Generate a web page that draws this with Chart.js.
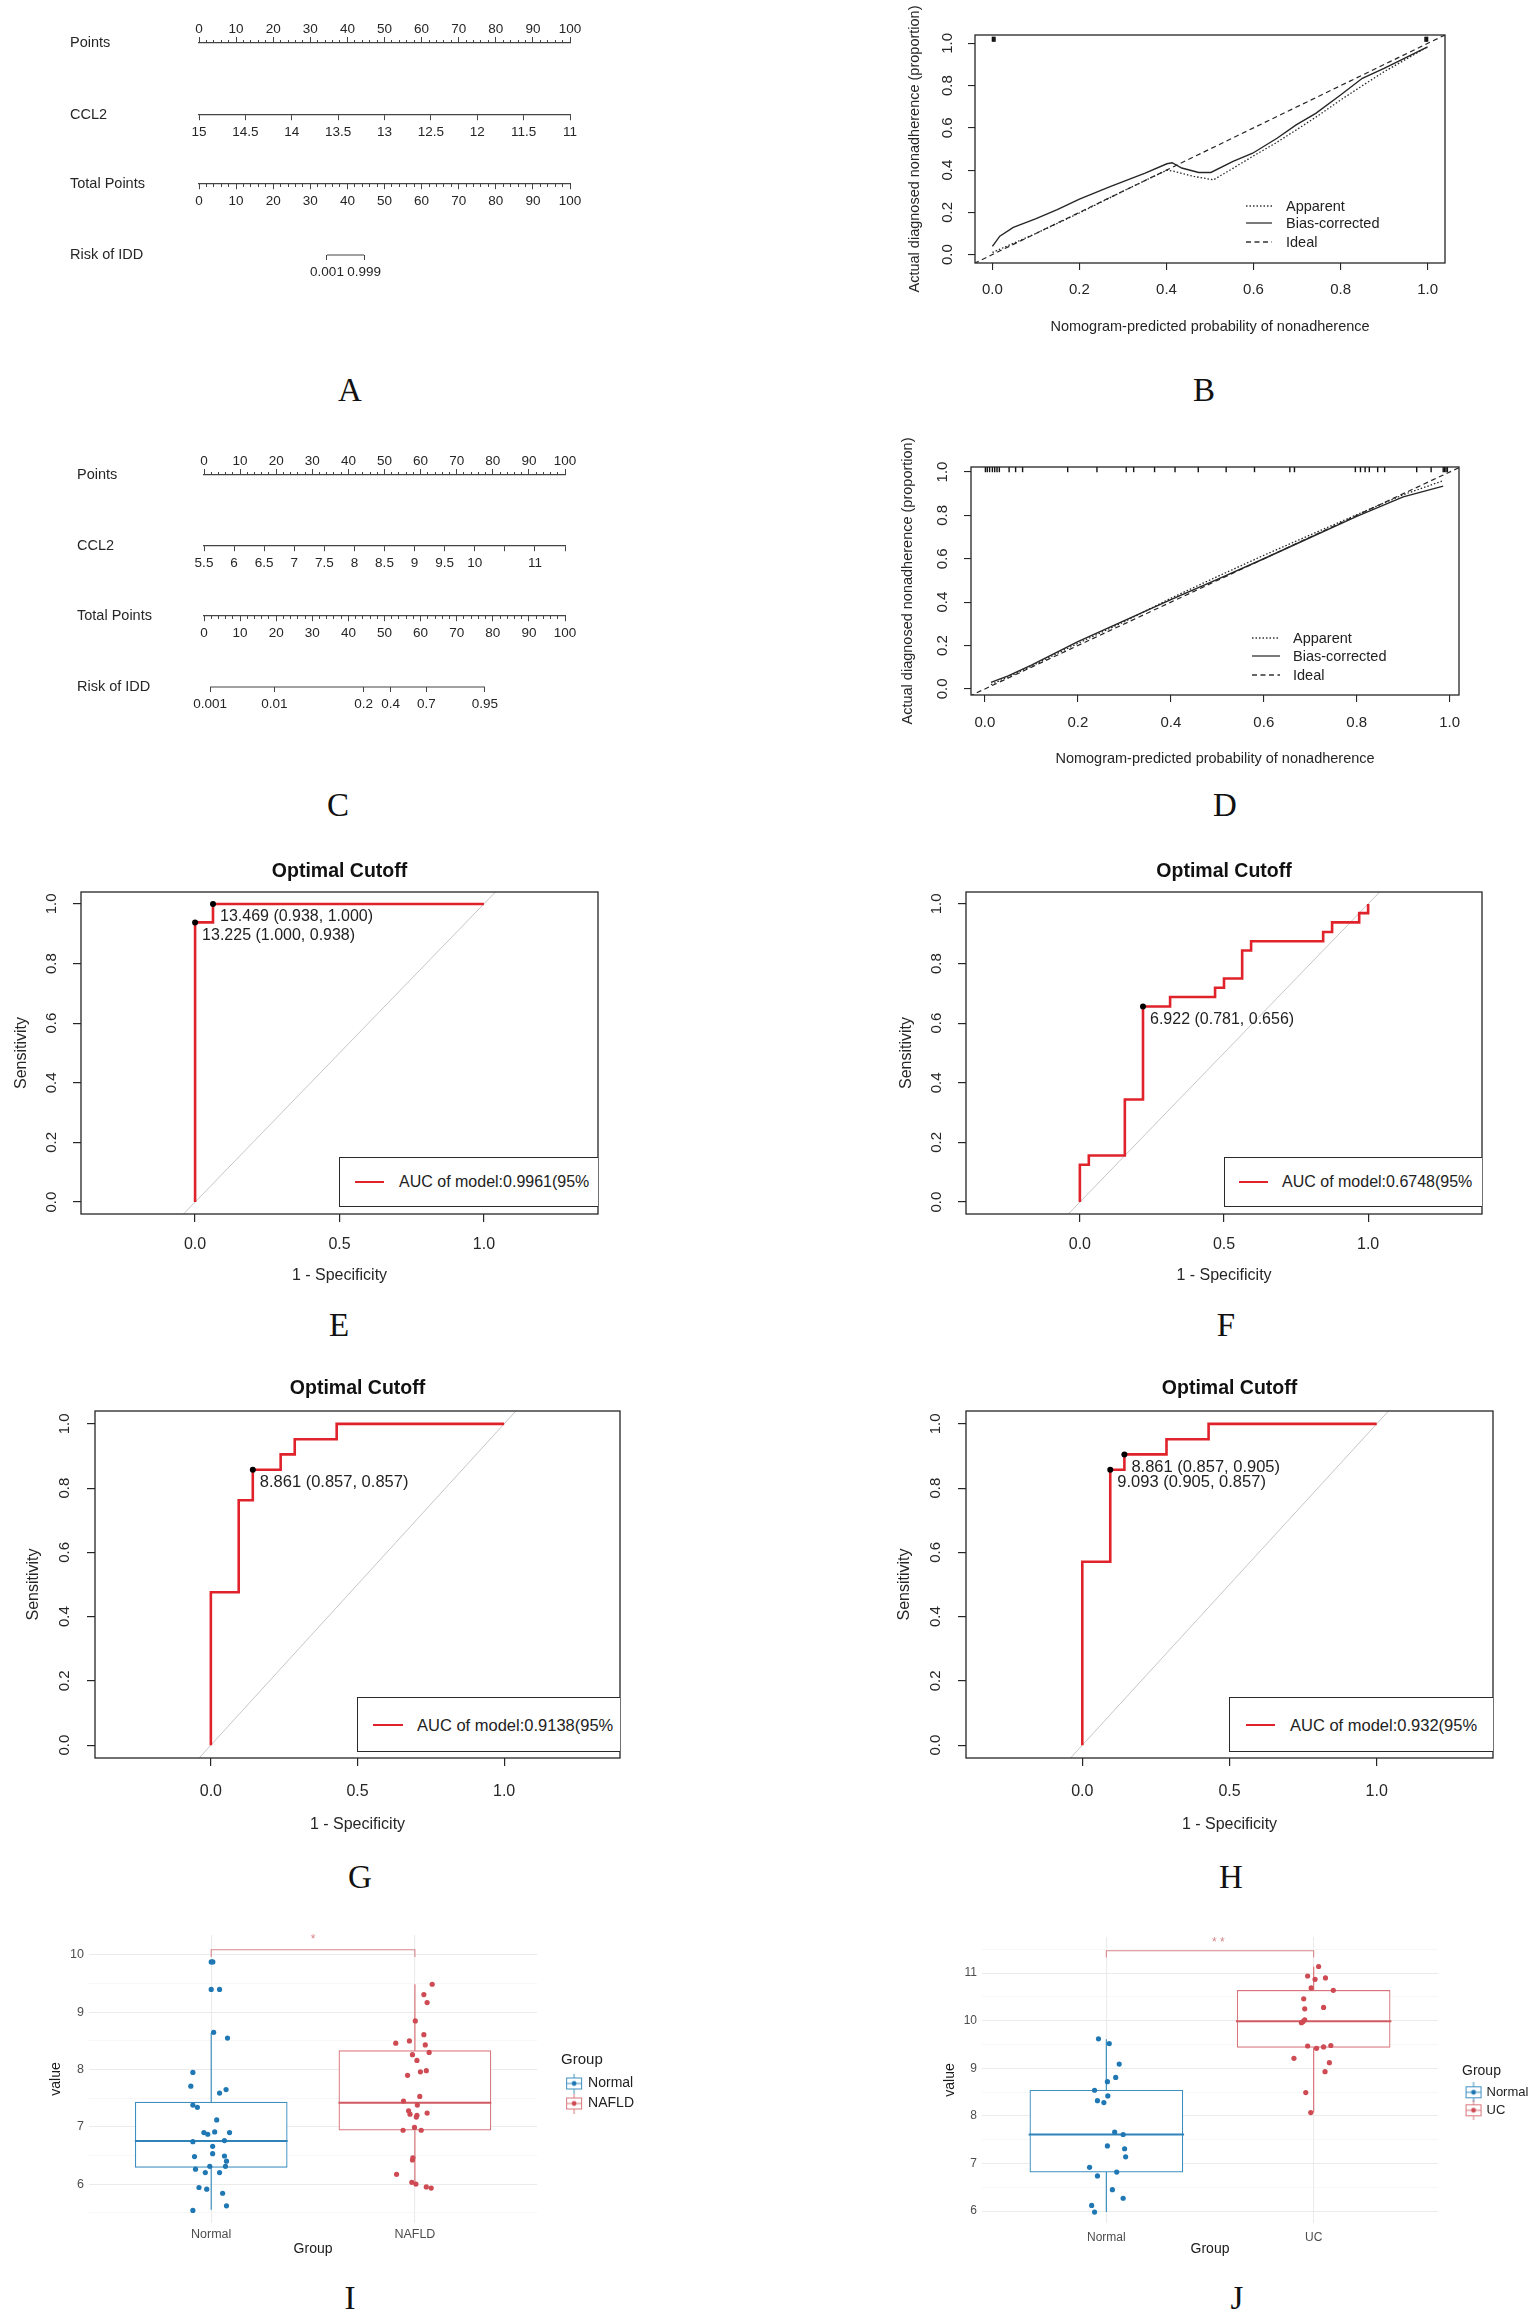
<!DOCTYPE html>
<html>
<head>
<meta charset="utf-8">
<title>CCL2 nomograms, calibration, ROC and box plots</title>
<script src="https://cdn.jsdelivr.net/npm/chart.js@4.4.1/dist/chart.umd.min.js"></script>
<style>
  html, body { margin: 0; padding: 0; background: #fff; }
  #page { position: relative; width: 1535px; height: 2314px; overflow: hidden; background: #fff;
          font-family: 'Liberation Sans', Arial, sans-serif; color: #222; }
  #page canvas { position: absolute; }
  .tag { position: absolute; font-family: 'Liberation Serif', 'Times New Roman', serif; font-size: 33px;
         line-height: 1; transform: translate(-50%, -50%); color: #111; }
  .auc { position: absolute; box-sizing: border-box; border: 1.4px solid #2a2a2a; border-right: none;
         overflow: hidden; background: #fff; }
  .auc i { position: absolute; height: 0; border-top: 2.6px solid #e0222b; transform: translateY(-50%); }
  .auc span { position: absolute; white-space: nowrap; line-height: 1; transform: translateY(-50%); color: #222; }
  .calkey { position: absolute; display: flex; align-items: center; transform: translateY(-50%);
            font-size: 14.5px; line-height: 16px; color: #222; white-space: nowrap; }
</style>
</head>
<body>
<div id="page">
  <canvas id="cA" width="770" height="300" style="left:0px;top:0px"></canvas>
  <canvas id="cB" width="640" height="343" style="left:880px;top:0px"></canvas>
  <canvas id="cC" width="770" height="300" style="left:0px;top:432px"></canvas>
  <canvas id="cD" width="640" height="343" style="left:876px;top:432px"></canvas>
  <canvas id="cE" width="640" height="454" style="left:0px;top:840px"></canvas>
  <canvas id="cF" width="640" height="454" style="left:885px;top:840px"></canvas>
  <canvas id="cG" width="640" height="493" style="left:0px;top:1350px"></canvas>
  <canvas id="cH" width="640" height="493" style="left:871px;top:1350px"></canvas>
  <canvas id="cI" width="614" height="341" style="left:40px;top:1920px"></canvas>
  <canvas id="cJ" width="618" height="341" style="left:930px;top:1920px"></canvas>
</div>
<script>
// ---------- A / C : nomograms ----------
const nomoRows = ['Points', 'CCL2', 'Total Points', 'Risk of IDD'];
const ccl2TicksA = [15, 14.5, 14, 13.5, 13, 12.5, 12, 11.5, 11];
const ccl2TicksC = [5.5, 6, 6.5, 7, 7.5, 8, 8.5, 9, 9.5, 10, 10.5, 11, 11.5];
const ccl2LabelsC = ['5.5', '6', '6.5', '7', '7.5', '8', '8.5', '9', '9.5', '10', '', '11', ''];
const riskLabelsA = ['0.001', '0.999'];
const riskAtPointsA = [34.5, 44.5];
const riskLabelsC = ['0.001', '0.01', '0.2', '0.4', '0.7', '0.95'];
const riskAtPointsC = [1.7, 19.5, 44.2, 51.7, 61.6, 77.8];

// ---------- B / D : calibration curves ----------
const calTicks = [0, 0.2, 0.4, 0.6, 0.8, 1];
const calKeys = ['Apparent', 'Bias-corrected', 'Ideal'];
const calBiasXB = [0, 0.017, 0.048, 0.099, 0.149, 0.2, 0.272, 0.351, 0.401, 0.413, 0.435, 0.474, 0.502, 0.553, 0.598, 0.654, 0.698, 0.743, 0.8, 0.85, 0.9, 1];
const calBiasB  = [0.039, 0.087, 0.129, 0.169, 0.213, 0.263, 0.323, 0.386, 0.43, 0.435, 0.41, 0.389, 0.389, 0.441, 0.48, 0.551, 0.614, 0.669, 0.756, 0.835, 0.882, 0.984];
const calAppXB  = [0, 0.1, 0.2, 0.3, 0.401, 0.418, 0.463, 0.508, 0.55, 0.598, 0.65, 0.698, 0.75, 0.8, 0.85, 0.9, 0.95, 1];
const calAppB   = [0.01, 0.1, 0.197, 0.3, 0.4, 0.394, 0.37, 0.354, 0.405, 0.465, 0.527, 0.59, 0.66, 0.732, 0.8, 0.866, 0.925, 0.984];
const rugB = [0, 0.002, 0.004, 0.006, 0.994, 0.996, 0.998, 1];
const calXD = [0.013, 0.05, 0.1, 0.2, 0.3, 0.4, 0.5, 0.6, 0.7, 0.8, 0.9, 0.986];
const calBiasD = [0.03, 0.06, 0.11, 0.218, 0.315, 0.412, 0.505, 0.6, 0.698, 0.795, 0.885, 0.935];
const calAppD  = [0.02, 0.055, 0.105, 0.21, 0.31, 0.418, 0.518, 0.616, 0.71, 0.803, 0.895, 0.96];
const rugD = [0.001, 0.005, 0.01, 0.016, 0.021, 0.026, 0.031, 0.052, 0.066, 0.081, 0.178, 0.241, 0.304, 0.32, 0.365, 0.409,
              0.459, 0.519, 0.58, 0.656, 0.666, 0.797, 0.808, 0.818, 0.827, 0.845, 0.86, 0.929, 0.96, 0.986, 0.989, 0.992, 0.995];

// ---------- E-H : ROC curves (x = 1 - specificity) ----------
const rocXTicks = [0, 0.5, 1];
const rocYTicks = [0, 0.2, 0.4, 0.6, 0.8, 1];
const rocFprE = [0, 0, 0.062, 0.062, 1];
const rocTprE = [0, 0.938, 0.938, 1, 1];
const cutXE = [0.062, 0];
const cutYE = [1, 0.938];
const cutTextE = ['13.469 (0.938, 1.000)', '13.225 (1.000, 0.938)'];
const rocFprF = [0, 0, 0.031, 0.031, 0.156, 0.156, 0.219, 0.219, 0.313, 0.313, 0.469, 0.469, 0.5, 0.5,
                 0.563, 0.563, 0.594, 0.594, 0.844, 0.844, 0.875, 0.875, 0.969, 0.969, 1, 1];
const rocTprF = [0, 0.125, 0.125, 0.156, 0.156, 0.344, 0.344, 0.656, 0.656, 0.688, 0.688, 0.719, 0.719, 0.75,
                 0.75, 0.844, 0.844, 0.875, 0.875, 0.906, 0.906, 0.938, 0.938, 0.969, 0.969, 1];
const cutXF = [0.219];
const cutYF = [0.656];
const cutTextF = ['6.922 (0.781, 0.656)'];
const rocFprG = [0, 0, 0.095, 0.095, 0.143, 0.143, 0.238, 0.238, 0.286, 0.286, 0.429, 0.429, 1];
const rocTprG = [0, 0.476, 0.476, 0.762, 0.762, 0.857, 0.857, 0.905, 0.905, 0.952, 0.952, 1, 1];
const cutXG = [0.143];
const cutYG = [0.857];
const cutTextG = ['8.861 (0.857, 0.857)'];
const rocFprH = [0, 0, 0.095, 0.095, 0.143, 0.143, 0.286, 0.286, 0.429, 0.429, 1];
const rocTprH = [0, 0.571, 0.571, 0.857, 0.857, 0.905, 0.905, 0.952, 0.952, 1, 1];
const cutXH = [0.143, 0.095];
const cutYH = [0.905, 0.857];
const cutTextH = ['8.861 (0.857, 0.905)', '9.093 (0.905, 0.857)'];
const aucText = ['0.9961', '0.6748', '0.9138', '0.932'];

// ---------- I / J : box plots with jitter ----------
const groupsI = ['Normal', 'NAFLD'];
const normalI = [9.88, 9.88, 9.4, 9.4, 8.65, 8.55, 7.95, 7.71, 7.65, 7.59, 7.38, 7.34, 7.12, 6.9, 6.87, 6.91, 6.9,
                 6.74, 6.76, 6.66, 6.48, 6.53, 6.49, 6.4, 6.26, 6.31, 6.31, 6.2, 6.2, 5.94, 5.91, 5.84, 5.62, 5.54];
const normalIJit = [0, 0.008, 0, 0.041, 0.012, 0.08, -0.09, -0.1, 0.073, 0.041, -0.09, -0.068, 0.027, -0.036, -0.017, 0.017, 0.09,
                    -0.09, 0.065, 0.007, -0.082, 0.007, 0.065, 0.075, -0.077, -0.007, 0.07, -0.029, 0.041, -0.06, -0.022, 0.056, 0.075, -0.09];
const nafldI = [9.49, 9.31, 9.17, 8.85, 8.61, 8.46, 8.5, 8.43, 8.3, 8.26, 8.16, 7.9, 7.96, 7.98, 7.53, 7.45,
                7.38, 7.28, 7.22, 7.17, 7.2, 7.24, 6.94, 6.99, 6.94, 6.46, 6.42, 6.17, 6.03, 6, 5.95, 5.93];
const nafldIJit = [0.085, 0.044, 0.06, 0.002, 0.044, -0.094, -0.027, 0.051, 0.07, -0.012, 0.01, -0.036, 0.027, 0.056, 0.024, -0.056,
                   0.012, -0.031, -0.024, 0.007, 0.01, 0.06, -0.058, -0.002, 0.031, -0.01, -0.012, -0.09, -0.015, 0.005, 0.056, 0.08];
const lowI = [5.55, 6.0];
const q1I = [6.29, 6.94];
const medI = [6.75, 7.42];
const q3I = [7.43, 8.33];
const highI = [8.64, 9.49];
const yGridI = [5.5, 6, 6.5, 7, 7.5, 8, 8.5, 9, 9.5, 10];

const groupsJ = ['Normal', 'UC'];
const normalJ = [9.62, 9.52, 9.09, 8.81, 8.72, 8.54, 8.42, 8.32, 8.28, 7.66, 7.61, 7.37, 7.31, 7.14, 6.92, 6.82, 6.74, 6.45, 6.27, 6.12, 5.98];
const normalJJit = [-0.038, 0.014, 0.062, 0.045, 0.005, -0.057, 0.007, -0.043, -0.012, 0.04, 0.081, 0.005, 0.088, 0.093, -0.081, 0.05, -0.043, 0.029, 0.081, -0.071, -0.057];
const ucJ = [11.14, 10.94, 10.87, 10.9, 10.69, 10.64, 10.46, 10.25, 10.28, 10.02, 9.98, 9.96, 9.47, 9.42, 9.45, 9.48, 9.21, 9.12, 8.93, 8.49, 8.07];
const ucJJit = [0.024, -0.029, 0.007, 0.057, -0.012, 0.095, -0.048, -0.043, 0.048, -0.043, -0.052, -0.059, -0.029, 0.014, 0.048, 0.083, -0.095, 0.076, 0.055, -0.038, -0.014];
const lowJ = [5.98, 8.07];
const q1J = [6.82, 9.44];
const medJ = [7.61, 9.99];
const q3J = [8.54, 10.64];
const highJ = [9.61, 11.14];
const yGridJ = [6, 6.5, 7, 7.5, 8, 8.5, 9, 9.5, 10, 10.5, 11, 11.5];

// ---------- shared look ----------
Chart.defaults.font.family = "'Liberation Sans', Arial, sans-serif";
Chart.defaults.color = '#222';
const ink = '#262626';
const rocRed = '#e0222b';
const sigRed = '#d9868b';
const boxLine = ['#3d8fc0', '#d9767c'];
const boxMed = ['#2f83b9', '#cf5a61'];
const boxDot = ['#1f78b4', '#cf4b54'];
const page = document.getElementById('page');

// box round the plotting region, like R's box()
const framePlugin = {
  id: 'frame',
  afterDatasetsDraw(chart, args, opts) {
    if (!opts || !opts.on) return;
    const a = chart.chartArea, ctx = chart.ctx;
    ctx.save();
    ctx.strokeStyle = ink;
    ctx.lineWidth = 1.3;
    ctx.strokeRect(a.left, a.top, a.right - a.left, a.bottom - a.top);
    ctx.restore();
  }
};

// text written next to the points of a dataset (cut-off labels, significance stars)
const noteTextPlugin = {
  id: 'noteText',
  afterDatasetsDraw(chart) {
    const ctx = chart.ctx;
    chart.data.datasets.forEach((ds, i) => {
      if (!ds.notes) return;
      const meta = chart.getDatasetMeta(i);
      ctx.save();
      ctx.font = ds.noteFont;
      ctx.fillStyle = ds.noteColor || ink;
      ctx.textAlign = ds.noteAlign || 'left';
      ctx.textBaseline = 'middle';
      meta.data.forEach((pt, j) => ctx.fillText(ds.notes[j], pt.x + (ds.noteDx || 0), pt.y + (ds.noteDy || 0)));
      ctx.restore();
    });
  }
};
Chart.register(framePlugin, noteTextPlugin);

const fixed = { responsive: false, animation: false, events: [] };
const pairs = (xs, ys) => xs.map((x, i) => ({ x, y: ys[i] }));

function drawNomogram(id, g, ccl, risk) {
  const rows = g.rows;
  const padBottom = 12;
  const under = extra => Object.assign({ autoSkip: false, padding: 4, color: ink, font: { size: 13.5 }, maxRotation: 0 }, extra);
  const tickGrid = len => ({ drawOnChartArea: false, tickLength: len, color: '#444', lineWidth: 1 });
  const axisLine = { color: '#444', width: 1.2 };
  new Chart(document.getElementById(id), {
    type: 'scatter',
    data: { datasets: [{
      xAxisID: 'risk', yAxisID: 'row', showLine: true, pointRadius: 0,
      data: [{ x: risk.at[0], y: rows[3] }, { x: risk.at[risk.at.length - 1], y: rows[3] }],
      borderColor: '#444', borderWidth: 1.2
    }]},
    options: Object.assign({}, fixed, {
      layout: { padding: { left: g.left, right: g.right, top: 0, bottom: padBottom } },
      plugins: { legend: { display: false }, tooltip: { enabled: false } },
      scales: {
        row: { axis: 'y', type: 'linear', position: 'left', min: 0, max: g.height - g.top - padBottom, reverse: true,
          afterFit: s => { s.width = g.axisLeft - g.left; },
          afterBuildTicks: s => { s.ticks = rows.map(v => ({ value: v })); },
          ticks: { autoSkip: false, crossAlign: 'far', padding: 0, color: ink, font: { size: 14.5 }, callback: (v, i) => nomoRows[i] },
          grid: { display: false }, border: { display: false } },
        pts: { axis: 'x', type: 'linear', position: 'top', min: 0, max: 100,
          afterFit: s => { s.height = g.top; },
          ticks: under({ stepSize: 10, padding: 0 }), grid: tickGrid(6), border: axisLine },
        ptsMinor: { axis: 'x', type: 'linear', position: { row: rows[0] }, min: 0, max: 100,
          ticks: { stepSize: 2, display: false }, grid: tickGrid(-3), border: { display: false } },
        ccl2: { axis: 'x', type: 'linear', position: { row: rows[1] }, min: ccl.min, max: ccl.max, reverse: ccl.reverse,
          afterBuildTicks: s => { s.ticks = ccl.ticks.map(v => ({ value: v })); },
          ticks: under({ callback: (v, i) => ccl.labels[i] }), grid: tickGrid(5), border: axisLine },
        total: { axis: 'x', type: 'linear', position: { row: rows[2] }, min: 0, max: 100,
          ticks: under({ stepSize: 10 }), grid: tickGrid(5), border: axisLine },
        totalMinor: { axis: 'x', type: 'linear', position: { row: rows[2] }, min: 0, max: 100,
          ticks: { stepSize: 2, display: false }, grid: tickGrid(3), border: { display: false } },
        risk: { axis: 'x', type: 'linear', position: { row: rows[3] }, min: 0, max: 100,
          afterBuildTicks: s => { s.ticks = risk.at.map(v => ({ value: v })); },
          ticks: under({ callback: (v, i) => risk.labels[i] }), grid: tickGrid(5), border: { display: false } }
      }
    })
  });
}

function drawCalibration(id, g, d) {
  new Chart(document.getElementById(id), {
    type: 'scatter',
    data: { datasets: [
      { data: d.rug.map(x => ({ x, y: g.rugY })), pointStyle: 'line', pointRotation: 90, pointRadius: g.rugR,
        pointBorderColor: '#111', pointBorderWidth: 1.4 },
      { data: pairs(d.biasX, d.bias), showLine: true, borderColor: ink, borderWidth: 1.4, pointRadius: 0 },
      { data: pairs(d.appX, d.app), showLine: true, borderColor: ink, borderWidth: 1.3, borderDash: [1.5, 2], pointRadius: 0 },
      { data: [{ x: -0.2, y: -0.2 }, { x: 1.2, y: 1.2 }], showLine: true, borderColor: ink, borderWidth: 1.2, borderDash: [5, 3.5], pointRadius: 0 }
    ]},
    options: Object.assign({}, fixed, {
      layout: { padding: { left: 0, right: g.padRight, top: 35, bottom: 0 } },
      plugins: { legend: { display: false }, tooltip: { enabled: false }, frame: { on: true } },
      scales: {
        x: { type: 'linear', min: g.xmin, max: g.xmax,
          afterBuildTicks: s => { s.ticks = calTicks.map(v => ({ value: v })); },
          afterFit: s => { s.height = 80; },
          ticks: { autoSkip: false, maxRotation: 0, padding: g.xPad, color: ink, font: { size: 15 }, callback: v => v.toFixed(1) },
          grid: { drawOnChartArea: false, tickLength: 7, color: ink, lineWidth: 1.1 },
          border: { display: false },
          title: { display: true, text: 'Nomogram-predicted probability of nonadherence', color: ink, font: { size: 14.5 },
                   padding: { top: 0, bottom: 7.3 } } },
        y: { type: 'linear', min: g.ymin, max: g.ymax,
          afterBuildTicks: s => { s.ticks = calTicks.map(v => ({ value: v })); },
          afterFit: s => { s.width = 95; },
          ticks: { autoSkip: false, minRotation: 90, maxRotation: 90, crossAlign: 'center', padding: g.yPad, color: ink,
                   font: { size: 15 }, callback: v => v.toFixed(1) },
          grid: { drawOnChartArea: false, tickLength: 7, color: ink, lineWidth: 1.1 },
          border: { display: false },
          title: { display: true, text: 'Actual diagnosed nonadherence (proportion)', color: ink, font: { size: 14.5 },
                   padding: { top: g.yTitlePad, bottom: 0 } } }
      }
    })
  });
  calKeys.forEach((name, i) => {
    const dash = ['1.5 2', 'none', '5 3.5'][i];
    const row = document.createElement('div');
    row.className = 'calkey';
    row.style.left = g.keyX + 'px';
    row.style.top = g.keyRows[i] + 'px';
    row.innerHTML = '<svg width="' + g.keyLen + '" height="4" style="margin-right:' + g.keyGap + 'px">' +
      '<line x1="0" y1="2" x2="' + g.keyLen + '" y2="2" stroke="#333" stroke-width="1.3" stroke-dasharray="' + dash + '"/></svg>' +
      '<span>' + name + '</span>';
    page.appendChild(row);
  });
}

function drawRoc(id, g, d, auc) {
  new Chart(document.getElementById(id), {
    type: 'scatter',
    data: { datasets: [
      { data: pairs(d.cutX, d.cutY), pointRadius: 3, pointBackgroundColor: '#000', pointBorderWidth: 0,
        notes: d.cutText, noteFont: g.note + "px 'Liberation Sans', Arial, sans-serif", noteColor: '#222', noteDx: 7, noteDy: 13 },
      { data: pairs(d.fpr, d.tpr), showLine: true, borderColor: rocRed, borderWidth: 2.6, pointRadius: 0 },
      { data: [{ x: -0.5, y: -0.5 }, { x: 1.5, y: 1.5 }], showLine: true, borderColor: '#c6c6c6', borderWidth: 1, pointRadius: 0 }
    ]},
    options: Object.assign({}, fixed, {
      layout: { padding: { left: 0, right: g.padRight, top: 0, bottom: 0 } },
      plugins: {
        legend: { display: false }, tooltip: { enabled: false }, frame: { on: true },
        title: { display: true, fullSize: false, text: 'Optimal Cutoff', color: '#111', font: { size: 19.5, weight: 'bold' },
                 padding: { top: g.titleTop, bottom: g.titleBottom } }
      },
      scales: {
        x: { type: 'linear', min: -0.395, max: 1.395,
          afterBuildTicks: s => { s.ticks = rocXTicks.map(v => ({ value: v })); },
          afterFit: s => { s.height = g.xAxisH; },
          ticks: { autoSkip: false, maxRotation: 0, padding: g.xPad, color: ink, font: { size: 16 }, callback: v => v.toFixed(1) },
          grid: { drawOnChartArea: false, tickLength: 8, color: ink, lineWidth: 1.2 },
          border: { display: false },
          title: { display: true, text: '1 - Specificity', color: ink, font: { size: 16 }, padding: { top: 0, bottom: 8.4 } } },
        y: { type: 'linear', min: -0.04, max: 1.04,
          afterBuildTicks: s => { s.ticks = rocYTicks.map(v => ({ value: v })); },
          afterFit: s => { s.width = g.yAxisW; },
          ticks: { autoSkip: false, minRotation: 90, maxRotation: 90, crossAlign: 'center', padding: g.yPad, color: ink,
                   font: { size: 15 }, callback: v => v.toFixed(1) },
          grid: { drawOnChartArea: false, tickLength: 8, color: ink, lineWidth: 1.2 },
          border: { display: false },
          title: { display: true, text: 'Sensitivity', color: ink, font: { size: 16 }, padding: { top: g.yTitlePad, bottom: 0 } } }
      }
    })
  });
  const box = document.createElement('div');
  box.className = 'auc';
  box.style.cssText = 'left:' + g.leg[0] + 'px;top:' + g.leg[1] + 'px;width:' + g.leg[2] + 'px;height:' + g.leg[3] + 'px';
  box.innerHTML = '<i style="left:' + g.leg[4] + 'px;width:' + g.leg[5] + 'px;top:' + g.leg[6] + 'px"></i>' +
    '<span style="left:' + g.leg[7] + 'px;top:' + g.leg[6] + 'px;font-size:' + g.note + 'px">AUC of model:' + auc + '(95%</span>';
  page.appendChild(box);
}

function boxGlyph(line, dot) {
  const c = document.createElement('canvas');
  c.width = 18; c.height = 20;
  const k = c.getContext('2d');
  k.strokeStyle = line; k.lineWidth = 1;
  k.beginPath(); k.moveTo(9, 0); k.lineTo(9, 20); k.stroke();
  k.fillStyle = '#fff'; k.fillRect(1.5, 4.5, 15, 11); k.strokeRect(1.5, 4.5, 15, 11);
  k.beginPath(); k.moveTo(1.5, 10); k.lineTo(16.5, 10); k.stroke();
  k.fillStyle = dot; k.beginPath(); k.arc(9, 10, 2.4, 0, Math.PI * 2); k.fill();
  return c;
}

function drawBoxplot(id, g, d) {
  const half = 0.375;
  const jittered = (vals, jit, x0) => vals.map((v, i) => ({ x: x0 + jit[i], y: v }));
  const sets = [
    { data: jittered(d.vals[0], d.jit[0], 0), pointRadius: 2.6, pointBackgroundColor: boxDot[0], pointBorderWidth: 0 },
    { data: jittered(d.vals[1], d.jit[1], 1), pointRadius: 2.6, pointBackgroundColor: boxDot[1], pointBorderWidth: 0 },
    { data: [{ x: g.starX, y: g.starY }], pointRadius: 0, notes: [g.star], noteAlign: 'center', noteColor: sigRed,
      noteFont: "12px 'Liberation Sans', Arial, sans-serif" },
    { data: [{ x: 0, y: g.bracket[0] }, { x: 0, y: g.bracket[1] }, { x: 1, y: g.bracket[1] }, { x: 1, y: g.bracket[0] }],
      showLine: true, borderColor: sigRed, borderWidth: 1.1, pointRadius: 0 }
  ];
  [0, 1].forEach(k => {
    sets.push({ data: [{ x: k - half, y: d.med[k] }, { x: k + half, y: d.med[k] }], showLine: true, borderColor: boxMed[k], borderWidth: 2, pointRadius: 0 });
    sets.push({ data: [{ x: k, y: d.low[k] }, { x: k, y: d.q1[k] }], showLine: true, borderColor: boxLine[k], borderWidth: 1.2, pointRadius: 0 });
    sets.push({ data: [{ x: k, y: d.q3[k] }, { x: k, y: d.high[k] }], showLine: true, borderColor: boxLine[k], borderWidth: 1.2, pointRadius: 0 });
  });
  sets.push({ type: 'bar', data: [0, 1].map(k => ({ x: k, y: [d.q1[k], d.q3[k]] })), backgroundColor: '#fff',
              borderColor: boxLine, borderWidth: 1.2, borderSkipped: false, barThickness: g.boxPx });
  const glyphs = [boxGlyph(boxLine[0], boxDot[0]), boxGlyph(boxLine[1], boxDot[1])];
  new Chart(document.getElementById(id), {
    type: 'scatter',
    data: { datasets: sets },
    options: Object.assign({}, fixed, {
      layout: { padding: { left: 0, right: g.padRight, top: g.padTop, bottom: 0 } },
      plugins: {
        tooltip: { enabled: false },
        legend: { display: true, position: 'right', align: 'start',
          title: { display: true, text: 'Group', position: 'start', color: '#222', font: { size: g.legTitle }, padding: g.legTitlePad },
          labels: { usePointStyle: true, boxWidth: g.legBox, boxHeight: g.legFont, padding: g.legPad, color: '#222', font: { size: g.legFont },
            generateLabels: () => d.groups.map((name, k) => ({ text: name, pointStyle: glyphs[k], fillStyle: 'rgba(0,0,0,0)',
              strokeStyle: 'rgba(0,0,0,0)', lineWidth: 0, hidden: false, datasetIndex: k, fontColor: '#222' })) } }
      },
      scales: {
        x: { type: 'linear', min: -0.6, max: 1.6, offset: false,
          afterBuildTicks: s => { s.ticks = [0, 1].map(v => ({ value: v })); },
          afterFit: s => { s.height = 38; },
          ticks: { autoSkip: false, maxRotation: 0, padding: g.xPad, color: '#4d4d4d', font: { size: g.tick }, callback: v => d.groups[v] },
          grid: { offset: false, color: '#ebebeb', lineWidth: 1.1, drawTicks: false },
          border: { display: false },
          title: { display: true, text: 'Group', color: '#1a1a1a', font: { size: 14 }, padding: { top: 0, bottom: 3.6 } } },
        y: { type: 'linear', min: g.ymin, max: g.ymax, beginAtZero: false,
          afterBuildTicks: s => { s.ticks = d.grid.map(v => ({ value: v })); },
          afterFit: s => { s.width = g.yAxisW; },
          ticks: { autoSkip: false, padding: 5, color: '#4d4d4d', font: { size: g.tick }, callback: v => Number.isInteger(v) ? String(v) : '' },
          grid: { drawTicks: false, color: c => Number.isInteger(c.tick.value) ? '#ebebeb' : '#f4f4f4',
                  lineWidth: c => Number.isInteger(c.tick.value) ? 1.1 : 0.7 },
          border: { display: false },
          title: { display: true, text: 'value', color: '#1a1a1a', font: { size: 14 }, padding: { top: g.yTitlePad, bottom: 0 } } },
        gap: { axis: 'y', type: 'linear', position: 'right', min: 0, max: 1,
          afterFit: s => { s.width = 24; },
          ticks: { display: false }, grid: { display: false }, border: { display: false } }
      }
    })
  });
}

// ---------- draw ----------
drawNomogram('cA', { left: 70, axisLeft: 199, right: 200, top: 43, height: 300, rows: [0, 72, 141, 212] },
  { min: 11, max: 15, reverse: true, ticks: ccl2TicksA, labels: ccl2TicksA.map(String) },
  { at: riskAtPointsA, labels: riskLabelsA });
drawNomogram('cC', { left: 77, axisLeft: 204, right: 205, top: 43, height: 300, rows: [0, 71, 141, 212] },
  { min: 5.5, max: 11.5, reverse: false, ticks: ccl2TicksC, labels: ccl2LabelsC },
  { at: riskAtPointsC, labels: riskLabelsC });

drawCalibration('cB', { padRight: 75, xmin: -0.04, xmax: 1.04, ymin: -0.04, ymax: 1.04, xPad: 11, yPad: 9.6, yTitlePad: 26.3,
                        rugY: 1.02, rugR: 2.5, keyX: 1246, keyRows: [206, 223, 242], keyLen: 26, keyGap: 14 },
  { biasX: calBiasXB, bias: calBiasB, appX: calAppXB, app: calAppB, rug: rugB });
drawCalibration('cD', { padRight: 57, xmin: -0.03, xmax: 1.02, ymin: -0.028, ymax: 1.023, xPad: 12, yPad: 10.6, yTitlePad: 23.3,
                        rugY: 1.011, rugR: 2.6, keyX: 1252, keyRows: [638, 656, 675], keyLen: 28, keyGap: 13 },
  { biasX: calXD, bias: calBiasD, appX: calXD, app: calAppD, rug: rugD });

const rocEF = { titleTop: 20.3, titleBottom: 8.3, xAxisH: 80, xPad: 13.4, yAxisW: 81, yPad: 10.6, yTitlePad: 12.4, note: 16 };
const rocGH = { titleTop: 27.3, titleBottom: 10.3, xAxisH: 85, xPad: 16.4, yAxisW: 95, yPad: 11.6, yTitlePad: 24.4, note: 16.5 };
drawRoc('cE', Object.assign({ padRight: 42, leg: [339, 1157, 259, 50, 15, 29, 24, 59] }, rocEF),
  { fpr: rocFprE, tpr: rocTprE, cutX: cutXE, cutY: cutYE, cutText: cutTextE }, aucText[0]);
drawRoc('cF', Object.assign({ padRight: 43, leg: [1224, 1157, 258, 50, 14, 29, 24, 57] }, rocEF),
  { fpr: rocFprF, tpr: rocTprF, cutX: cutXF, cutY: cutYF, cutText: cutTextF }, aucText[1]);
drawRoc('cG', Object.assign({ padRight: 20, leg: [357, 1697, 263, 55, 15, 30, 27, 59] }, rocGH),
  { fpr: rocFprG, tpr: rocTprG, cutX: cutXG, cutY: cutYG, cutText: cutTextG }, aucText[2]);
drawRoc('cH', Object.assign({ padRight: 18, leg: [1229, 1697, 264, 55, 16, 29, 27, 60] }, rocGH),
  { fpr: rocFprH, tpr: rocTprH, cutX: cutXH, cutY: cutYH, cutText: cutTextH }, aucText[3]);

drawBoxplot('cI', { padTop: 15, padRight: 10, yAxisW: 49, ymin: 5.32, ymax: 10.35, boxPx: 152, tick: 12.5, xPad: 4.5,
                    yTitlePad: 7.6, bracket: [9.965, 10.093], starX: 0.5, starY: 10.26, star: '*',
                    legTitle: 15, legTitlePad: { top: 117.5, bottom: 0 }, legFont: 14, legBox: 14, legPad: 6 },
  { groups: groupsI, vals: [normalI, nafldI], jit: [normalIJit, nafldIJit], low: lowI, q1: q1I, med: medI, q3: q3I, high: highI, grid: yGridI });
drawBoxplot('cJ', { padTop: 17, padRight: 9.6, yAxisW: 52, ymin: 5.75, ymax: 11.76, boxPx: 153, tick: 12, xPad: 7.8,
                    yTitlePad: 11.6, bracket: [11.33, 11.47], starX: 0.54, starY: 11.65, star: '* *',
                    legTitle: 14, legTitlePad: { top: 127, bottom: 0 }, legFont: 13, legBox: 17, legPad: 5 },
  { groups: groupsJ, vals: [normalJ, ucJ], jit: [normalJJit, ucJJit], low: lowJ, q1: q1J, med: medJ, q3: q3J, high: highJ, grid: yGridJ });

// panel letters
[['A', 350, 390], ['B', 1204, 390], ['C', 338, 805], ['D', 1225, 805], ['E', 339, 1325], ['F', 1226, 1325],
 ['G', 360, 1877], ['H', 1231, 1877], ['I', 350, 2298], ['J', 1237, 2298]].forEach(([t, x, y]) => {
  const el = document.createElement('div');
  el.className = 'tag';
  el.style.left = x + 'px';
  el.style.top = y + 'px';
  el.textContent = t;
  page.appendChild(el);
});
</script>
</body>
</html>
